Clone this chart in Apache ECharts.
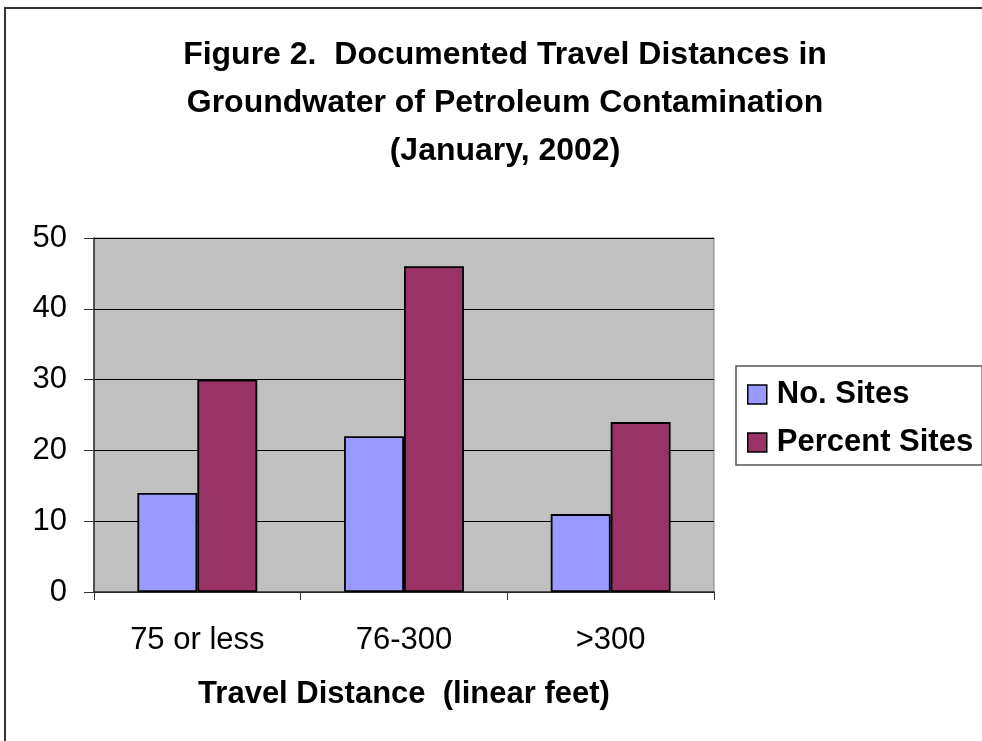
<!DOCTYPE html>
<html><head><meta charset="utf-8">
<script src="https://cdn.jsdelivr.net/npm/echarts@6/dist/echarts.min.js"></script>
<style>html,body{margin:0;padding:0;background:#fff}#c{width:982px;height:741px}</style>
</head><body><div id="c"></div>
<script>
var categories = ['75 or less', '76-300', '>300'];
var noSites = [14, 22, 11];
var percentSites = [30, 46, 24];
var seriesNames = ['No. Sites', 'Percent Sites'];
var titleText = 'Figure 2.  Documented Travel Distances in\nGroundwater of Petroleum Contamination\n(January, 2002)';
var xAxisName = 'Travel Distance  (linear feet)';

var chart = echarts.init(document.getElementById('c'), null, {renderer: 'canvas'});
var F = '"Liberation Sans", Arial, sans-serif';
chart.setOption({
  animation: false,
  backgroundColor: '#fff',
  title: {
    text: titleText, left: 500, top: 26, textAlign: 'center',
    textStyle: {fontFamily: F, fontSize: 32, fontWeight: 'bold', color: '#000', lineHeight: 48}
  },
  graphic: [{
    type: 'rect', shape: {x: 5, y: 8, width: 1200, height: 1200},
    style: {fill: 'none', stroke: '#333', lineWidth: 2}, z: 100, silent: true
  }],
  legend: {
    orient: 'vertical', left: 736, top: 366,
    padding: [13, 9, 7, 11], itemGap: 17,
    borderColor: '#555', borderWidth: 1.5, backgroundColor: '#fff',
    itemWidth: 19, itemHeight: 19, icon: 'rect',
    textStyle: {fontFamily: F, fontSize: 31, fontWeight: 'bold', color: '#000', padding: [0, 0, 0, 5]},
    itemStyle: {borderColor: '#000', borderWidth: 1.5}
  },
  grid: {left: 94, top: 238, width: 620, height: 354, show: true, backgroundColor: '#c0c0c0', borderColor: '#808080', borderWidth: 1},
  xAxis: {
    type: 'category', data: categories,
    name: xAxisName, nameLocation: 'middle', nameGap: 87,
    nameTextStyle: {fontFamily: F, fontSize: 31, fontWeight: 'bold', color: '#000'},
    axisLine: {lineStyle: {color: '#333', width: 1.5}},
    axisTick: {show: true, length: 8, lineStyle: {color: '#333'}},
    axisLabel: {fontFamily: F, fontSize: 31, color: '#000', margin: 33}
  },
  yAxis: {
    type: 'value', min: 0, max: 50, interval: 10,
    axisLine: {show: true, lineStyle: {color: '#333', width: 1.5}},
    axisTick: {show: true, length: 10, lineStyle: {color: '#333'}},
    axisLabel: {fontFamily: F, fontSize: 31, color: '#000', margin: 27},
    splitLine: {lineStyle: {color: '#000', width: 1}}
  },
  series: [
    {name: seriesNames[0], type: 'bar', data: noSites, barGap: '0%', barCategoryGap: '42%',
     itemStyle: {color: '#9999ff', borderColor: '#000', borderWidth: 1.8}},
    {name: seriesNames[1], type: 'bar', data: percentSites,
     itemStyle: {color: '#993366', borderColor: '#000', borderWidth: 1.8}}
  ]
});
</script></body></html>
